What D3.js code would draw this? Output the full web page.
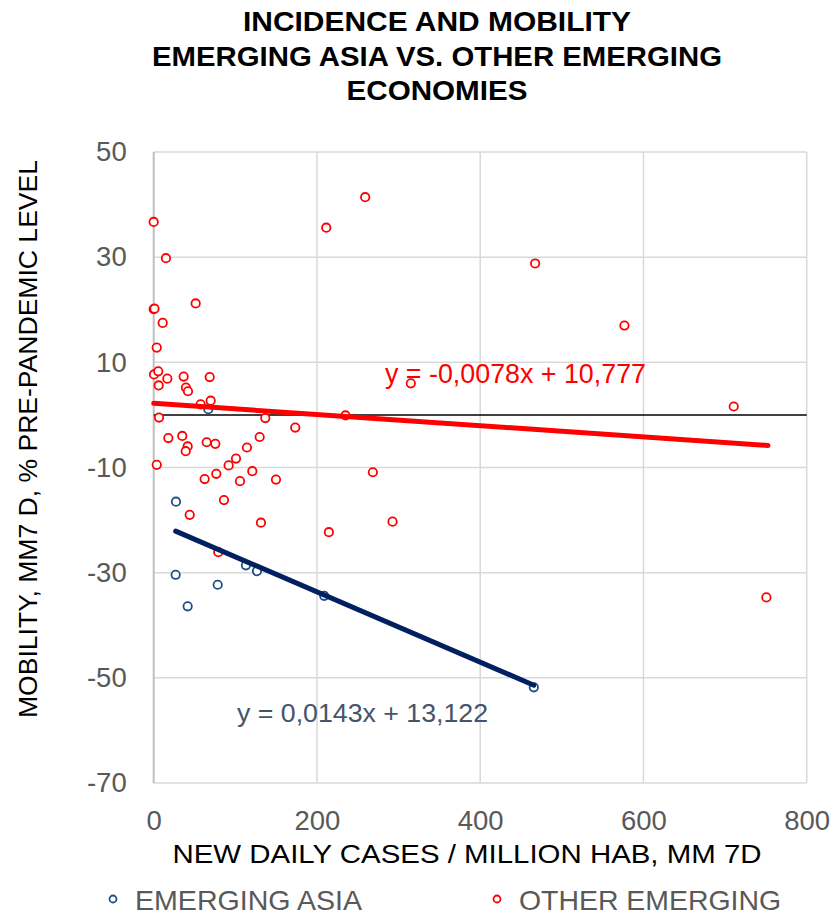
<!DOCTYPE html>
<html><head><meta charset="utf-8">
<script src="https://cdn.jsdelivr.net/npm/d3@7"></script>
<style>body{margin:0;background:#fff}svg{display:block}text{font-family:"Liberation Sans",Arial,sans-serif}</style>
</head><body>
<script>
const titleLines = ["INCIDENCE AND MOBILITY", "EMERGING ASIA VS. OTHER EMERGING", "ECONOMIES"];
const xTicks = [0, 200, 400, 600, 800];
const yTicks = [50, 30, 10, -10, -30, -50, -70];
const seriesNames = ["EMERGING ASIA", "OTHER EMERGING"];
const asiaX = [27.3, 26.9, 41.6, 78.4, 113, 126.5, 208.9, 465.7, 66.9];
const asiaY = [-16.5, -30.4, -36.4, -32.3, -28.6, -29.7, -34.4, -51.8, 1.1];
const otherX = [0, 15, 0, 1, 51.4, 11, 3.7, 0.4, 5.6, 16.7, 6.1, 36.7, 39.5, 42, 68.6, 57.5, 69.8, 6.5, 136.7, 17.9, 35, 41.6, 39.2, 64.9, 75.5, 129.8, 114.2, 100.8, 91.8, 3.7, 62.4, 76.7, 105.7, 120.8, 149.8, 86.1, 44.1, 131.4, 173.4, 235, 268.5, 214.6, 292.6, 315, 259.1, 211.4, 467.3, 576.7, 710.6, 750.6, 79.1];
const otherY = [36.7, 29.8, 20.1, 20.2, 21.2, 17.5, 12.8, 7.7, 8.3, 6.9, 5.6, 7.3, 5.2, 4.5, 7.2, 2.0, 2.7, -0.5, -0.6, -4.4, -4.0, -6.0, -6.9, -5.2, -5.5, -4.2, -6.2, -8.3, -9.6, -9.5, -12.2, -11.2, -12.6, -10.7, -12.3, -16.2, -19.0, -20.5, -2.4, -0.1, -10.9, -22.3, -20.3, 6.0, 41.4, 35.6, 28.8, 17.0, 1.6, -34.7, -26.1];
const asiaTrendX = [26.9, 465.7];
const asiaTrendY = [-22.1, -51.4];
const otherTrendX = [0, 752.6];
const otherTrendY = [2.2, -5.8];
const asiaEq = "y = 0,0143x + 13,122";
const otherEq = "y = -0,0078x + 10,777";
const xTitle = "NEW DAILY CASES / MILLION HAB, MM 7D";
const yTitle = "MOBILITY, MM7 D, % PRE-PANDEMIC LEVEL";

const W = 833, H = 916;
const svg = d3.select("body").append("svg").attr("width", W).attr("height", H);
const x = d3.scaleLinear().domain([0, 800]).range([153.7, 806.7]);
const y = d3.scaleLinear().domain([-70, 50]).range([783, 152]);
const blue = "#1F4E8C", red = "#FF0000";

// title
const titleW = [388, 570, 181];
svg.append("g").selectAll("text").data(titleLines).join("text")
  .attr("x", 437).attr("y", (d, i) => 31 + i * 34.5)
  .attr("text-anchor", "middle").attr("font-weight", "bold").attr("font-size", 28)
  .attr("textLength", (d, i) => titleW[i]).attr("lengthAdjust", "spacingAndGlyphs")
  .attr("fill", "#000").text(d => d);

// gridlines
const g = svg.append("g");
g.selectAll(".hg").data(yTicks).join("line")
  .attr("x1", x(0)).attr("x2", x(800)).attr("y1", d => y(d)).attr("y2", d => y(d))
  .attr("stroke", "#d9d9d9").attr("stroke-width", 1.5);
g.selectAll(".vg").data(xTicks.filter(d => d > 0)).join("line")
  .attr("x1", d => x(d)).attr("x2", d => x(d)).attr("y1", y(50)).attr("y2", y(-70))
  .attr("stroke", "#d9d9d9").attr("stroke-width", 1.5);
g.append("line").attr("x1", x(0)).attr("x2", x(0)).attr("y1", y(50)).attr("y2", y(-70))
  .attr("stroke", "#bfbfbf").attr("stroke-width", 2);
g.append("line").attr("x1", x(0)).attr("x2", x(800)).attr("y1", y(0)).attr("y2", y(0))
  .attr("stroke", "#000").attr("stroke-width", 1.5);

// axes
const yAxis = svg.append("g").attr("transform", `translate(${x(0)},0)`)
  .call(d3.axisLeft(y).tickValues(yTicks).tickSize(0).tickPadding(27).tickFormat(d => String(d)));
const xAxis = svg.append("g").attr("transform", `translate(0,${y(-70)})`)
  .call(d3.axisBottom(x).tickValues(xTicks).tickSize(0).tickPadding(24).tickFormat(d => String(d)));
[yAxis, xAxis].forEach(a => {
  a.select(".domain").remove();
  a.selectAll("text").attr("font-size", 27.5).attr("fill", "#595959")
    .attr("font-family", '"Liberation Sans",Arial,sans-serif');
});
xAxis.selectAll("text").attr("dy", "0").attr("y", 47);

// axis titles
svg.append("text").attr("transform", `translate(37,439) rotate(-90)`)
  .attr("text-anchor", "middle").attr("font-size", 26).attr("fill", "#000")
  .attr("textLength", 558).attr("lengthAdjust", "spacingAndGlyphs").text(yTitle);
svg.append("text").attr("x", 467).attr("y", 863)
  .attr("text-anchor", "middle").attr("font-size", 26.5).attr("fill", "#000")
  .attr("textLength", 589).attr("lengthAdjust", "spacingAndGlyphs").text(xTitle);

// points
const asia = asiaX.map((v, i) => ({x: v, y: asiaY[i]}));
const other = otherX.map((v, i) => ({x: v, y: otherY[i]}));
svg.append("g").selectAll("circle").data(asia).join("circle")
  .attr("cx", d => x(d.x)).attr("cy", d => y(d.y)).attr("r", 4.2)
  .attr("fill", "#fff").attr("stroke", blue).attr("stroke-width", 1.8);
svg.append("g").selectAll("circle").data(other).join("circle")
  .attr("cx", d => x(d.x)).attr("cy", d => y(d.y)).attr("r", 4.2)
  .attr("fill", "#fff").attr("stroke", red).attr("stroke-width", 1.8);

// trend lines
const line = d3.line().x(d => x(d[0])).y(d => y(d[1]));
svg.append("path").attr("d", line(asiaTrendX.map((v, i) => [v, asiaTrendY[i]])))
  .attr("stroke", "#002060").attr("stroke-width", 5).attr("stroke-linecap", "round").attr("fill", "none");
svg.append("path").attr("d", line(otherTrendX.map((v, i) => [v, otherTrendY[i]])))
  .attr("stroke", red).attr("stroke-width", 5).attr("stroke-linecap", "round").attr("fill", "none");

// equations
svg.append("text").attr("x", 385).attr("y", 383).attr("font-size", 27).attr("fill", red)
  .attr("textLength", 261).attr("lengthAdjust", "spacingAndGlyphs").text(otherEq);
svg.append("text").attr("x", 237).attr("y", 722).attr("font-size", 26).attr("fill", "#44546A")
  .attr("textLength", 251).attr("lengthAdjust", "spacingAndGlyphs").text(asiaEq);

// legend
const leg = svg.append("g");
const legX = [113, 497], legC = [blue, red], legW = [227, 262];
leg.selectAll("circle").data(seriesNames).join("circle")
  .attr("cx", (d, i) => legX[i]).attr("cy", 899).attr("r", 3.5)
  .attr("fill", "#fff").attr("stroke", (d, i) => legC[i]).attr("stroke-width", 1.8);
leg.selectAll("text").data(seriesNames).join("text")
  .attr("x", (d, i) => legX[i] + 22).attr("y", 910).attr("font-size", 28).attr("fill", "#595959")
  .attr("textLength", (d, i) => legW[i]).attr("lengthAdjust", "spacingAndGlyphs").text(d => d);
</script>
</body></html>
